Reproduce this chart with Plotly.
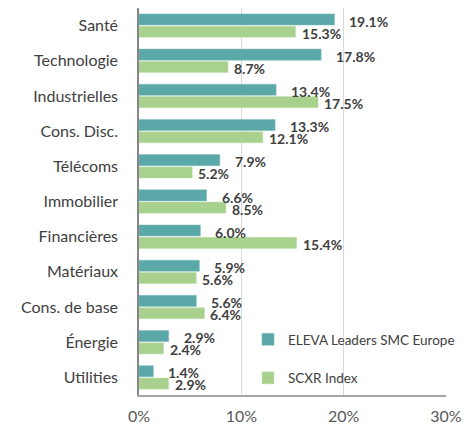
import plotly.graph_objects as go

categories = ["Santé", "Technologie", "Industrielles", "Cons. Disc.", "Télécoms",
              "Immobilier", "Financières", "Matériaux", "Cons. de base", "Énergie", "Utilities"]
eleva = [19.1, 17.8, 13.4, 13.3, 7.9, 6.6, 6.0, 5.9, 5.6, 2.9, 1.4]
scxr = [15.3, 8.7, 17.5, 12.1, 5.2, 8.5, 15.4, 5.6, 6.4, 2.4, 2.9]
x_ticks = [0, 10, 20, 30]
x_tick_labels = ["0%", "10%", "20%", "30%"]

FONT = "Lato"
TEAL = "#5BA8A8"
GREEN = "#A9D18E"

fig = go.Figure()
fig.add_trace(go.Bar(
    y=categories, x=eleva, orientation="h", name="ELEVA Leaders SMC Europe",
    marker=dict(color=TEAL, line=dict(color="#7fbcbc", width=0.5)),
    legendgroup="a",
))
fig.add_trace(go.Bar(
    y=categories, x=scxr, orientation="h", name="SCXR Index",
    marker=dict(color=GREEN, line=dict(color="#c0dead", width=0.5)),
    legendgroup="b",
))

label_font = dict(family=FONT, size=14, color="#404040", weight="bold")
for cat, v in zip(categories, eleva):
    fig.add_annotation(x=v, y=cat, text="%.1f%%" % v, showarrow=False,
                       xanchor="left", yanchor="middle", xshift=13, yshift=5,
                       height=12, font=label_font)
for cat, v in zip(categories, scxr):
    fig.add_annotation(x=v, y=cat, text="%.1f%%" % v, showarrow=False,
                       xanchor="left", yanchor="middle", xshift=4, yshift=-7,
                       height=12, font=label_font)

# page body has an 8px margin: figure is 466x420 placed at (8, 8)
fig.update_layout(
    width=466, height=420,
    margin=dict(l=131, r=28, t=0, b=33),
    paper_bgcolor="white", plot_bgcolor="white",
    barmode="group", bargap=0.3, bargroupgap=0.1,
    font=dict(family=FONT, size=16, color="#404040"),
    showlegend=True,
    legend=dict(x=0.355, y=0.093, xanchor="left", yanchor="middle",
                bgcolor="rgba(0,0,0,0)", traceorder="grouped",
                tracegroupgap=18, font=dict(family=FONT, size=13.5, color="#404040"),
                itemwidth=30),
)
fig.update_xaxes(
    range=[0, 30], tickvals=x_ticks, ticktext=x_tick_labels,
    showgrid=True, gridcolor="#D9D9D9", gridwidth=1,
    showline=True, linecolor="#A6A6A6", linewidth=1.5,
    ticks="outside", ticklen=6, tickcolor="rgba(0,0,0,0)",
    tickfont=dict(family=FONT, size=16, color="#595959"),
    zeroline=False, automargin=False,
)
fig.update_yaxes(
    autorange="reversed", showline=True, linecolor="#868686", linewidth=1.5,
    ticks="outside", ticklen=16, tickcolor="rgba(0,0,0,0)",
    tickfont=dict(family=FONT, size=16, color="#404040"),
    showgrid=False, automargin=False,
)

fig.write_html("out.html")
